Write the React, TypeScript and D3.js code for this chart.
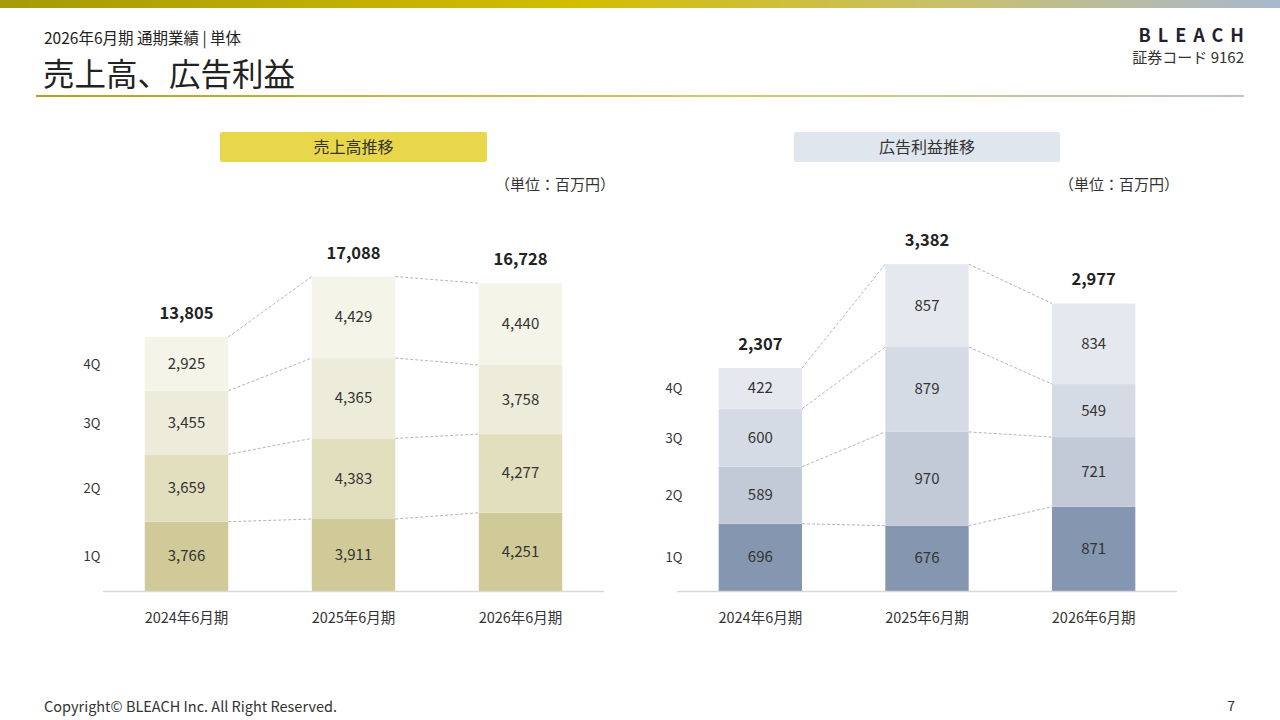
import * as d3 from "d3"

// ---- data ----
const years = ["2024年6月期", "2025年6月期", "2026年6月期"]
const quarters = ["1Q", "2Q", "3Q", "4Q"]

const sales1Q = [3766, 3911, 4251]
const sales2Q = [3659, 4383, 4277]
const sales3Q = [3455, 4365, 3758]
const sales4Q = [2925, 4429, 4440]
const salesTotal = [13805, 17088, 16728]

const profit1Q = [696, 676, 871]
const profit2Q = [589, 970, 721]
const profit3Q = [600, 879, 549]
const profit4Q = [422, 857, 834]
const profitTotal = [2307, 3382, 2977]

const salesColors = ["#cfca97", "#e2dfbf", "#edebda", "#f4f4e9"]
const profitColors = ["#8496b0", "#c2cad8", "#d5dbe4", "#e5e8ee"]

const FONT = "'Noto Sans CJK JP', 'Noto Sans', sans-serif"
const fmt = d3.format(",")

type ChartProps = {
  series: number[][]
  totals: number[]
  colors: string[]
  x0: number
  x1: number
  yMax: number
  yTop: number
  baseline: number
  qLabelX: number
}

function StackChart({ series, totals, colors, x0, x1, yMax, yTop, baseline, qLabelX }: ChartProps) {
  const rows = years.map((y, i) => {
    const r: Record<string, any> = { year: y }
    quarters.forEach((q, k) => (r[q] = series[k][i]))
    return r
  })
  const stacked = d3.stack<any>().keys(quarters)(rows)

  const x = d3.scaleBand().domain(years).range([x0, x1]).paddingInner(0.5).paddingOuter(0.25)
  const y = d3.scaleLinear().domain([0, yMax]).range([baseline, yTop])
  const bw = x.bandwidth()

  return (
    <g fontFamily={FONT}>
      {/* dashed connectors between bars */}
      {stacked.map((layer) =>
        years.slice(0, -1).map((yr, i) => (
          <line
            key={layer.key + yr}
            x1={(x(yr) ?? 0) + bw}
            y1={y(layer[i][1])}
            x2={x(years[i + 1]) ?? 0}
            y2={y(layer[i + 1][1])}
            stroke="#b4b4b4"
            strokeWidth={1}
            strokeDasharray="3,2"
          />
        ))
      )}
      {/* stacked bars */}
      {stacked.map((layer, k) =>
        layer.map((d, i) => (
          <g key={layer.key + i}>
            <rect x={x(years[i])} y={y(d[1])} width={bw} height={y(d[0]) - y(d[1])} fill={colors[k]} />
            <text
              x={(x(years[i]) ?? 0) + bw / 2}
              y={(y(d[0]) + y(d[1])) / 2 + 5}
              textAnchor="middle"
              fontSize={15}
              fill="#333"
            >
              {fmt(series[k][i])}
            </text>
          </g>
        ))
      )}
      {/* totals */}
      {years.map((yr, i) => (
        <text
          key={"t" + yr}
          x={(x(yr) ?? 0) + bw / 2}
          y={y(stacked[3][i][1]) - 18}
          textAnchor="middle"
          fontSize={16.5}
          fontWeight="bold"
          fill="#222"
        >
          {fmt(totals[i])}
        </text>
      ))}
      {/* quarter labels */}
      {stacked.map((layer) => (
        <text
          key={"q" + layer.key}
          x={qLabelX}
          y={(y(layer[0][0]) + y(layer[0][1])) / 2 + 5}
          textAnchor="middle"
          fontSize={13}
          fill="#333"
        >
          {layer.key}
        </text>
      ))}
      {/* axis */}
      <line x1={x0} x2={x1} y1={baseline + 0.5} y2={baseline + 0.5} stroke="#d9d9d9" strokeWidth={1.5} />
      {years.map((yr) => (
        <text key={"x" + yr} x={(x(yr) ?? 0) + bw / 2} y={baseline + 32} textAnchor="middle" fontSize={14.5} fill="#333">
          {yr}
        </text>
      ))}
    </g>
  )
}

export default function App() {
  return (
    <svg
      width={1280}
      height={720}
      style={{ position: "fixed", left: 0, top: 0, background: "#fff" }}
      fontFamily={FONT}
    >
      <defs>
        <linearGradient id="topbar" x1="0" x2="1" y1="0" y2="0">
          <stop offset="0%" stopColor="#a59a08" />
          <stop offset="45%" stopColor="#d4bd00" />
          <stop offset="75%" stopColor="#c8c070" />
          <stop offset="100%" stopColor="#a8b8cf" />
        </linearGradient>
        <linearGradient id="rule" x1="0" x2="1" y1="0" y2="0">
          <stop offset="0%" stopColor="#b3a41e" />
          <stop offset="60%" stopColor="#d2ca6a" />
          <stop offset="100%" stopColor="#bcc6d2" />
        </linearGradient>
      </defs>
      <rect x={0} y={0} width={1280} height={8} fill="url(#topbar)" />

      <text x={44} y={43.5} fontSize={15.5} fill="#222">
        2026年6月期 通期業績 | 単体
      </text>
      <text x={43} y={85.5} fontSize={31.5} fill="#222">
        売上高、広告利益
      </text>
      <rect x={36} y={95} width={1208} height={2} fill="url(#rule)" />

      <text x={1251} y={42} textAnchor="end" fontSize={18} fontWeight="bold" letterSpacing={7} fill="#1f2330">
        BLEACH
      </text>
      <text x={1244} y={63} textAnchor="end" fontSize={15} fill="#333">
        証券コード 9162
      </text>

      <rect x={220} y={132} width={267} height={30} rx={2} fill="#e8d74a" />
      <text x={353.5} y={153} textAnchor="middle" fontSize={16} fill="#333">
        売上高推移
      </text>
      <rect x={794} y={132} width={266} height={30} rx={2} fill="#dfe6ee" />
      <text x={927} y={153} textAnchor="middle" fontSize={16} fill="#333">
        広告利益推移
      </text>

      <text x={615} y={190} textAnchor="end" fontSize={15} fill="#333">
        （単位：百万円）
      </text>
      <text x={1179} y={190} textAnchor="end" fontSize={15} fill="#333">
        （単位：百万円）
      </text>

      <StackChart
        series={[sales1Q, sales2Q, sales3Q, sales4Q]}
        totals={salesTotal}
        colors={salesColors}
        x0={103}
        x1={604}
        yMax={20000}
        yTop={223}
        baseline={591}
        qLabelX={92}
      />
      <StackChart
        series={[profit1Q, profit2Q, profit3Q, profit4Q]}
        totals={profitTotal}
        colors={profitColors}
        x0={677}
        x1={1177}
        yMax={4000}
        yTop={204.4}
        baseline={591}
        qLabelX={674}
      />

      <text x={44} y={712} fontSize={14.5} fill="#333">
        Copyright© BLEACH Inc. All Right Reserved.
      </text>
      <text x={1235} y={711} textAnchor="end" fontSize={14} fill="#333">
        7
      </text>
    </svg>
  )
}
